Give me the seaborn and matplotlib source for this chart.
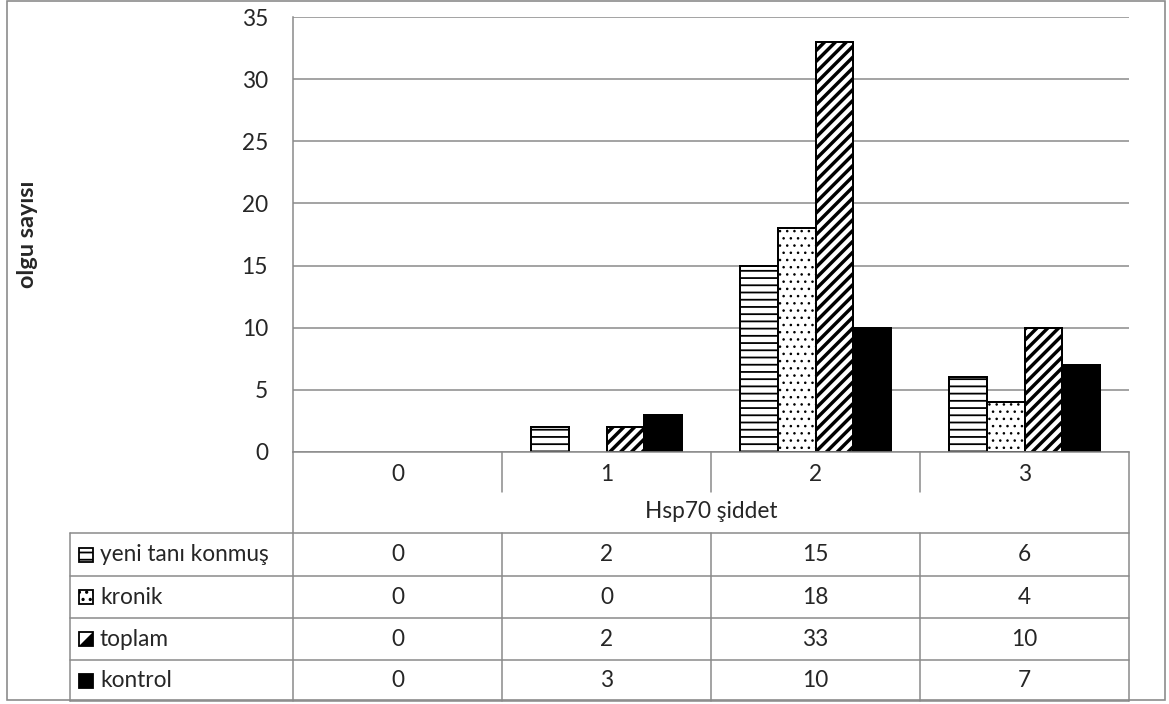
import matplotlib.pyplot as plt
import matplotlib.transforms as mtransforms
import seaborn as sns
import pandas as pd
from matplotlib.lines import Line2D
from matplotlib.patches import Rectangle, Polygon

# Data
siddet = ["0", "1", "2", "3"]
gruplar = ["yeni tanı konmuş", "kronik", "toplam", "kontrol"]
yeni_tani = [0, 2, 15, 6]
kronik = [0, 0, 18, 4]
toplam = [0, 2, 33, 10]
kontrol = [0, 3, 10, 7]
y_ticks = [0, 5, 10, 15, 20, 25, 30, 35]

# Styles for each group
colors = ["white", "white", "white", "black"]
hatches = ["---", "...", "////", ""]
hatch_lw = [1.0, 0.6, 1.9, 1.0]

W, H, DPI = 1169, 704, 130
GRAY = "#8a8a8a"
FS = 12.5

sns.set_style("white")
plt.rcParams["font.family"] = ["Lato", "DejaVu Sans"]
plt.rcParams["hatch.linewidth"] = 1.0

df = pd.DataFrame({
    "siddet": siddet * 4,
    "grup": [g for g in gruplar for _ in siddet],
    "olgu": yeni_tani + kronik + toplam + kontrol,
})


def fx(x):
    return x / W


def fy(y):
    return 1 - y / H


fig = plt.figure(figsize=(W / DPI, H / DPI), dpi=DPI)
ax = fig.add_axes([fx(293), fy(452), fx(1129) - fx(293), fy(17) - fy(452)])

sns.barplot(data=df, x="siddet", y="olgu", hue="grup", order=siddet,
            hue_order=gruplar, palette=colors, saturation=1, width=0.72,
            edgecolor="black", linewidth=1.1, errorbar=None, legend=False, ax=ax)

for cont, h, lw in zip(ax.containers, hatches, hatch_lw):
    for bar in cont:
        bar.set_hatch(h)
        if hasattr(bar, "set_hatch_linewidth"):
            bar.set_hatch_linewidth(lw)
        if bar.get_height() == 0:
            bar.set_linewidth(0)

ax.set_xlim(-0.5, len(siddet) - 0.5)
ax.set_ylim(0, 35)
ax.set_yticks(y_ticks)
ax.yaxis.grid(True, color=GRAY, lw=0.85)
ax.set_axisbelow(True)
ax.tick_params(axis="y", length=0, pad=13.8, labelsize=FS)
ax.tick_params(axis="x", length=0, pad=6.4, labelsize=FS)
for s in ["top", "right"]:
    ax.spines[s].set_visible(False)
for s in ["left", "bottom"]:
    ax.spines[s].set_color(GRAY)
    ax.spines[s].set_linewidth(0.85)

ax.set_xlabel("")
ax.set_ylabel("olgu sayısı", fontsize=13, fontweight="bold")
ax.yaxis.set_label_coords((38 - 293) / (1129 - 293), 0.5)

# Data table under the chart
tr = mtransforms.blended_transform_factory(ax.transData, fig.transFigure)
x_left = -0.5
x_right = len(siddet) - 0.5
x_key = ax.transData.inverted().transform((70, 0))[0]


def line(xs, ys, transform):
    fig.add_artist(Line2D(xs, ys, transform=transform, color=GRAY, lw=0.85))


bounds = [i - 0.5 for i in range(len(siddet) + 1)]
line([x_left, x_left], [fy(452), fy(701)], tr)
line([x_right, x_right], [fy(452), fy(701)], tr)
for b in bounds[1:-1]:
    line([b, b], [fy(452), fy(492)], tr)
    line([b, b], [fy(533), fy(701)], tr)
line([x_key, x_key], [fy(533), fy(701)], tr)

row_lines = [533, 576, 618, 660, 701]
for y in row_lines:
    line([x_key, x_right], [fy(y), fy(y)], tr)

fig.text((x_left + x_right) / 2, fy(512), "Hsp70 şiddet", transform=tr,
         ha="center", va="center", fontsize=FS)

series = [yeni_tani, kronik, toplam, kontrol]
for r, (name, vals) in enumerate(zip(gruplar, series)):
    yc = (row_lines[r] + row_lines[r + 1]) / 2
    x0, x1, y0, y1 = fx(79), fx(93), fy(yc + 7), fy(yc - 7)
    if hatches[r] == "////":
        # legend key drawn as a half-filled square
        fig.add_artist(Polygon([(x0, y0), (x1, y0), (x1, y1)], closed=True,
                               transform=fig.transFigure, facecolor="black", lw=0))
        fig.add_artist(Rectangle((x0, y0), x1 - x0, y1 - y0, transform=fig.transFigure,
                                 fill=False, edgecolor="black", lw=1.0))
    else:
        fig.add_artist(Rectangle((x0, y0), x1 - x0, y1 - y0,
                                 transform=fig.transFigure, facecolor=colors[r],
                                 edgecolor="black", lw=1.0, hatch=hatches[r]))
    fig.text(fx(100), fy(yc), name, ha="left", va="center", fontsize=FS)
    for i, v in enumerate(vals):
        fig.text(i, fy(yc), str(v), transform=tr, ha="center", va="center", fontsize=FS)

# Outer border
fig.add_artist(Rectangle((fx(7), fy(700)), fx(1165) - fx(7), fy(1) - fy(700),
                         transform=fig.transFigure, fill=False, edgecolor=GRAY, lw=0.9))

fig.savefig("out.png", dpi=DPI)
